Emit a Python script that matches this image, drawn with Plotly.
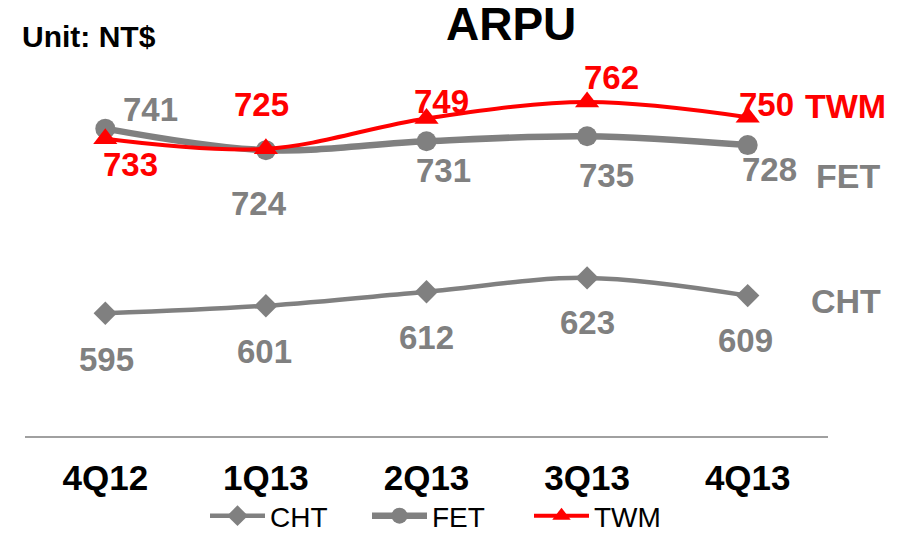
import plotly.graph_objects as go

quarters = ["4Q12", "1Q13", "2Q13", "3Q13", "4Q13"]
cht = [595, 601, 612, 623, 609]
fet = [741, 724, 731, 735, 728]
twm = [733, 725, 749, 762, 750]

GRAY = "#808080"
RED = "#FF0000"
FONT = "Arial, Liberation Sans, sans-serif"

# the page body adds an 8px offset; the figure is sized/positioned to compensate
OFF = 8
W, H = 903 - OFF, 534 - OFF
# plot area in page pixels: x 25..828, y 54..436
L, R, T, B = 25 - OFF, W - (828 - OFF), 54 - OFF, H - (436 - OFF)
PW, PH = W - L - R, H - T - B


def px(xp, yp):
    """page pixel -> paper coords"""
    return (xp - OFF - L) / PW, (H - B - (yp - OFF)) / PH


fig = go.Figure()
fig.add_trace(go.Scatter(
    x=quarters, y=cht, name="CHT", mode="lines+markers",
    line=dict(color=GRAY, width=4.5, shape="spline"),
    marker=dict(symbol="diamond", size=18, color=GRAY)))
fig.add_trace(go.Scatter(
    x=quarters, y=fet, name="FET", mode="lines+markers",
    line=dict(color=GRAY, width=6.5, shape="spline"),
    marker=dict(symbol="circle", size=20, color=GRAY)))
fig.add_trace(go.Scatter(
    x=quarters, y=twm, name="TWM", mode="lines+markers",
    line=dict(color=RED, width=4, shape="spline"),
    marker=dict(symbol="triangle-up", size=21, color=RED)))

# label offsets (px): right, down
cht_off = [(1, 46), (-1, 46), (0, 46), (0, 45), (-2, 45)]
fet_off = [(45, -19), (-7, 53), (17, 29), (19, 39), (22, 24)]
twm_off = [(25, 26), (-4, -44), (15, -17), (24, -25), (19, -13)]

anns = []
for vals, offs, col in [(cht, cht_off, GRAY), (fet, fet_off, GRAY), (twm, twm_off, RED)]:
    for q, v, (dx, dy) in zip(quarters, vals, offs):
        anns.append(dict(x=q, y=v, xref="x", yref="y", text=str(v), showarrow=False,
                         xanchor="center", yanchor="middle", xshift=dx, yshift=-dy,
                         font=dict(family=FONT, size=33, color=col, weight="bold")))

for name, col, (xp, yp) in [("TWM", RED, (845, 105.5)), ("FET", GRAY, (847.5, 176)),
                            ("CHT", GRAY, (846, 301))]:
    xx, yy = px(xp, yp)
    anns.append(dict(x=xx, y=yy, xref="paper", yref="paper", text=name, showarrow=False,
                     xanchor="center", yanchor="middle",
                     font=dict(family=FONT, size=34, color=col, weight="bold")))

xx, yy = px(511, 23.5)
anns.append(dict(x=xx, y=yy, xref="paper", yref="paper", text="ARPU", showarrow=False,
                 xanchor="center", yanchor="middle",
                 font=dict(family=FONT, size=46, color="black", weight="bold")))
xx, yy = px(20, 36)
anns.append(dict(x=xx, y=yy, xref="paper", yref="paper", text="Unit: NT$", showarrow=False,
                 xanchor="left", yanchor="middle",
                 font=dict(family=FONT, size=30, color="black", weight="bold")))

lx, ly = px(205, 516)
fig.update_layout(
    width=W, height=H,
    margin=dict(l=L, r=R, t=T, b=B, autoexpand=False),
    paper_bgcolor="white", plot_bgcolor="white",
    showlegend=True,
    legend=dict(orientation="h", x=lx, y=ly, xanchor="left", yanchor="middle",
                font=dict(family=FONT, size=28, color="black"),
                itemwidth=55, entrywidth=92, traceorder="normal",
                bgcolor="rgba(0,0,0,0)"),
    xaxis=dict(type="category", range=[-0.5, 4.5], showgrid=False, zeroline=False,
               showline=True, linecolor="#a0a0a0", linewidth=1.5,
               ticks="outside", ticklen=10, tickcolor="rgba(0,0,0,0)",
               tickfont=dict(family=FONT, size=35, color="black", weight="bold")),
    yaxis=dict(range=[498, 800], visible=False, showgrid=False, zeroline=False),
    annotations=anns,
)

fig.write_html("out.html")
